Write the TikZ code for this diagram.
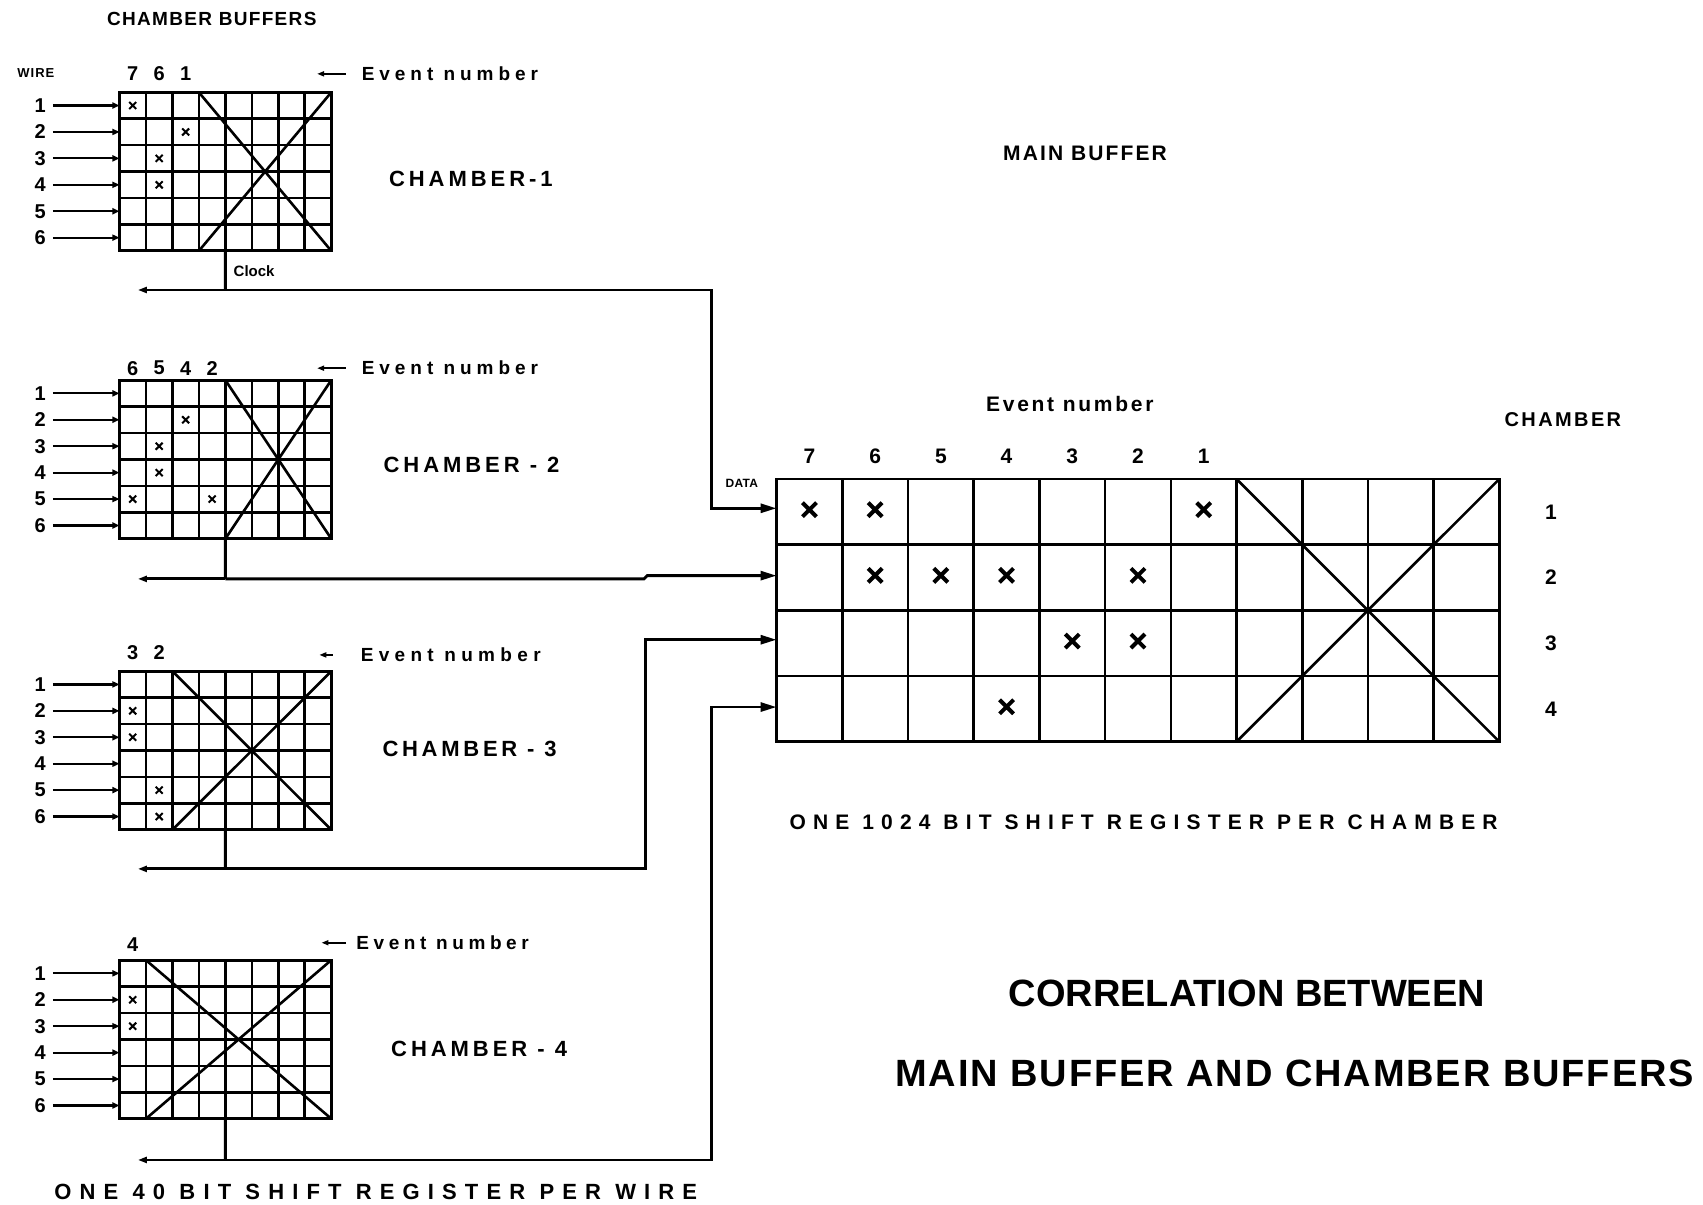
\documentclass[tikz,border=0pt]{standalone}
\usepackage{fontspec}
\setmainfont{Liberation Sans}
\usetikzlibrary{calc,arrows.meta,shapes.misc}
\newcommand\lsp[3]{{\fontsize{#1}{#1}\selectfont\bfseries\addfontfeatures{LetterSpace=#2}#3}}
% chamber buffer grid: #1 name, #2 top y, #3 first crossed column
\newcommand\cbuf[3]{%
  \node[gridbox,minimum width=211.8pt,minimum height=158.6pt] (#1) at (110,#2) {};
  \foreach \i in {1,...,7}{\draw[gl] ($(#1.north west)!\i/8!(#1.north east)$) -- ($(#1.south west)!\i/8!(#1.south east)$);}
  \foreach \j in {1,...,5}{\draw[gl] ($(#1.north west)!\j/6!(#1.south west)$) -- ($(#1.north east)!\j/6!(#1.south east)$);}
  \draw[gl] ($(#1.north west)!#3/8!(#1.north east)$) -- (#1.south east);
  \draw[gl] ($(#1.south west)!#3/8!(#1.south east)$) -- (#1.north east);
  \foreach \k in {1,...,6}{%
    \node[num] (#1w\k) at (37,{#2+24.333*\k-12.17}) {\k};
    \draw[wa] ([xshift=7pt]#1w\k.east) -- (#1w\k -| #1.west);}
  \coordinate (#1c) at ($(#1.south west)!0.5!(#1.south east)$);
}
\newcommand\cmarks[2]{\foreach \r/\c [count=\n] in {#2}{\node[smk] (#1m\n) at ($(#1.north west)+({(\c-0.5)*24.375},{(\r-0.5)*24.333})$) {};}}
\newcommand\clabels[3]{\foreach \t [count=\n] in {#3}{\node[num] (#1t\n) at ({110+24.375*\n-12.19},#2) {\t};}}
\begin{document}
\begin{tikzpicture}[x=1.0861pt,y=-1.0861pt,
  gridbox/.style={draw,line width=2.9pt,inner sep=0pt,outer sep=0pt,anchor=north west},
  gl/.style={line width=2.6pt},
  smk/.style={cross out,draw,line width=2pt,minimum size=5pt,inner sep=0pt},
  bmk/.style={cross out,draw,line width=4pt,minimum size=10pt,inner sep=0pt},
  wa/.style={line width=2.2pt,-{Triangle[length=7pt,width=6pt]}},
  bus/.style={line width=2.8pt},
  busl/.style={line width=2.8pt,-{Triangle[length=9pt,width=6pt]}},
  da/.style={line width=2.8pt,-{Triangle[length=16pt,width=9pt]}},
  eva/.style={line width=1.8pt,-{Triangle[length=7pt,width=5pt]}},
  num/.style={inner sep=0pt,font=\fontsize{20}{20}\selectfont\bfseries},
  mnum/.style={inner sep=0pt,font=\fontsize{21}{21}\selectfont\bfseries},
  lbl/.style={inner sep=0pt}]
\useasboundingbox[fill=white] (0,0) rectangle (1568,1109);

% titles
\node[lbl] (ttl) at (195,17) {\lsp{19}{7}{CHAMBER BUFFERS}};
\node[lbl] (wire) at (33,67) {\lsp{13}{8}{WIRE}};

% chamber buffers
\cbuf{g1}{85}{3}
\cbuf{g2}{350}{4}
\cbuf{g3}{618}{2}
\cbuf{g4}{884}{1}
\cmarks{g1}{1/1,2/3,3/2,4/2}
\cmarks{g2}{2/3,3/2,4/2,5/1,5/4}
\cmarks{g3}{2/1,3/1,5/2,6/2}
\cmarks{g4}{2/1,3/1}
\clabels{g1}{68}{7,6,1}
\clabels{g2}{339}{6,5,4,2}
\clabels{g3}{601}{3,2}
\clabels{g4}{870}{4}

% event number labels with arrows
\node[lbl,anchor=west] (ev1) at (333,68) {\lsp{19}{26}{Event number}};
\node[lbl,anchor=west] (ev2) at (333,339) {\lsp{19}{26}{Event number}};
\node[lbl,anchor=west] (ev3) at (332,603) {\lsp{19}{28}{Event number}};
\node[lbl,anchor=west] (ev4) at (328,868) {\lsp{19}{24}{Event number}};
\coordinate (ea1) at (292,68);
\coordinate (ea2) at (292,339);
\coordinate (ea3) at (294,603);
\coordinate (ea4) at (296,868);
\draw[eva] ([xshift=-16pt]ev1.west) -- (ea1);
\draw[eva] ([xshift=-16pt]ev2.west) -- (ea2);
\draw[eva] ([xshift=-28pt]ev3.west) -- (ea3);
\draw[eva] ([xshift=-10pt]ev4.west) -- (ea4);

% chamber names
\node[lbl,anchor=west] (ch1) at (358,165) {\lsp{22}{18}{CHAMBER-1}};
\node[lbl,anchor=west] (ch2) at (353,428) {\lsp{22}{18}{CHAMBER - 2}};
\node[lbl,anchor=west] (ch3) at (352,690) {\lsp{22}{17}{CHAMBER - 3}};
\node[lbl,anchor=west] (ch4) at (360,966) {\lsp{22}{18}{CHAMBER - 4}};
\node[lbl,anchor=west] (clk) at (215,250) {\lsp{15}{0}{Clock}};

% main buffer
\node[gridbox,minimum width=722.8pt,minimum height=262.8pt] (mb) at (715,441) {};
\foreach \i in {1,...,10}{\draw[gl] ($(mb.north west)!\i/11!(mb.north east)$) -- ($(mb.south west)!\i/11!(mb.south east)$);}
\foreach \j in {1,...,3}{\draw[gl] ($(mb.north west)!\j/4!(mb.south west)$) -- ($(mb.north east)!\j/4!(mb.south east)$);}
\draw[gl] ($(mb.north west)!7/11!(mb.north east)$) -- (mb.south east);
\draw[gl] ($(mb.south west)!7/11!(mb.south east)$) -- (mb.north east);
\foreach \r/\c [count=\n] in {1/1,1/2,1/7,2/2,2/3,2/4,2/6,3/5,3/6,4/4}{\node[bmk] (mbm\n) at ($(mb.north west)+({(\c-0.5)*60.5},{(\r-0.5)*60.5-2})$) {};}
\foreach \t [count=\n] in {7,6,5,4,3,2,1}{\node[mnum] (mc\n) at ({715+60.5*\n-30.25},420) {\t};}
\foreach \n in {1,...,4}{\node[mnum] (mr\n) at (1428,{441+60.5*\n-30.25}) {\n};}
\node[lbl] (mbt) at (999,141) {\lsp{21}{10}{MAIN BUFFER}};
\node[lbl] (mev) at (985,372) {\lsp{21}{13}{Event number}};
\node[lbl] (chm) at (1439,386) {\lsp{20}{12}{CHAMBER}};
\node[lbl] (data) at (683,445) {\lsp{12}{3}{DATA}};
\node[lbl] (one1024) at (1053,757) {\lsp{21}{34}{ONE 1024 BIT SHIFT REGISTER PER CHAMBER}};

% inputs of main buffer
\coordinate (in1) at ($(mb.north west)+(0,27)$);
\coordinate (in2) at ($(mb.north west)+(0,89)$);
\coordinate (in3) at ($(mb.north west)+(0,148)$);
\coordinate (in4) at ($(mb.north west)+(0,210)$);

% clock / data lines
\coordinate (J1) at (207.5,267); \coordinate (L1) at (127,267); \coordinate (B1) at (655,267);
\coordinate (J2) at (207.5,533); \coordinate (L2) at (127,533); \coordinate (B2a) at (593,533); \coordinate (B2b) at (596,530);
\coordinate (J3) at (207.5,800); \coordinate (L3) at (127,800); \coordinate (B3) at (594,800);
\coordinate (J4) at (207.5,1068); \coordinate (L4) at (127,1068); \coordinate (B4) at (655,1068);
\draw[bus] (g1c) -- (J1);
\draw[bus] (g2c) -- (J2);
\draw[bus] (g3c) -- (J3);
\draw[bus] (g4c) -- (J4);
\draw[busl] (J1) -- (L1);
\draw[busl] (J2) -- (L2);
\draw[busl] (J3) -- (L3);
\draw[busl] (J4) -- (L4);
\draw[da] (J1) -- (B1) |- (in1);
\draw[da] (J2) -- (B2a) -- (B2b) -- (in2);
\draw[da] (J3) -- (B3) |- (in3);
\draw[da] (J4) -- (B4) |- (in4);

% bottom texts
\node[lbl] (one40) at (346,1097) {\lsp{22}{37}{ONE 40 BIT SHIFT REGISTER PER WIRE}};
\node[lbl] (corr1) at (1148,915) {\lsp{38}{0}{CORRELATION BETWEEN}};
\node[lbl] (corr2) at (1192,988) {\lsp{38}{5}{MAIN BUFFER AND CHAMBER BUFFERS}};
\end{tikzpicture}
\end{document}
